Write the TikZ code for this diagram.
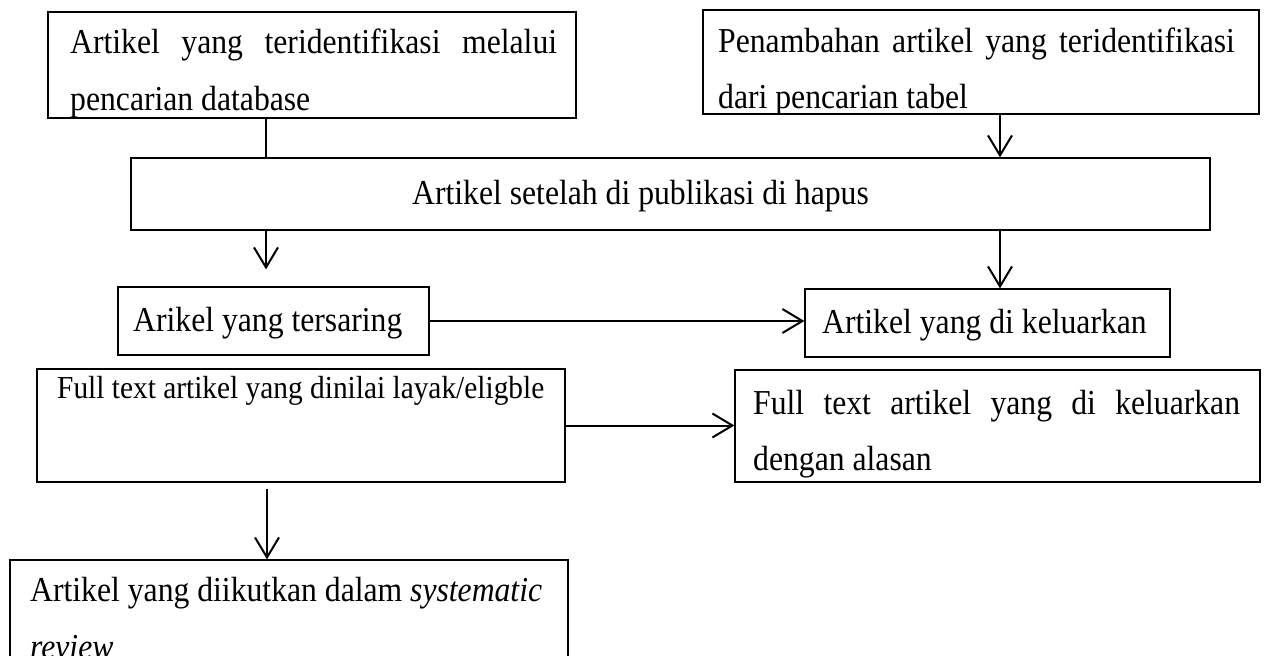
\documentclass[tikz,border=0pt]{standalone}
\usepackage{fontspec}
\usepackage{graphicx}
\setmainfont{Liberation Serif}
\usetikzlibrary{arrows.meta}
\newcommand\sq[1]{\scalebox{0.905}[1]{#1}}
\newcommand\sqs[1]{\scalebox{0.918}[1]{#1}}
\begin{document}
\begin{tikzpicture}[x=1pt,y=-1pt,
  box/.style={draw, line width=1.3pt, rectangle, inner sep=0pt},
  txt/.style={anchor=base west, inner sep=0pt, font=\fontsize{35}{40}\selectfont},
  stxt/.style={anchor=base west, inner sep=0pt, font=\fontsize{32}{36}\selectfont},
  conn/.style={line width=2pt},
  arr/.style={conn, -{Straight Barb[length=20pt,width=24pt,line width=2pt]}}]
\useasboundingbox (0,0) rectangle (1288,656);
% boxes
\node[box, minimum width=528pt, minimum height=106pt] (b1) at (312,65) {};
\node[box, minimum width=556pt, minimum height=104pt] (b2) at (981,62) {};
\node[box, minimum width=1079pt, minimum height=72pt] (b3) at (670.5,194) {};
\node[box, minimum width=311pt, minimum height=68pt] (b4) at (273.5,321) {};
\node[box, minimum width=365pt, minimum height=68pt] (b5) at (987.5,323) {};
\node[box, minimum width=528pt, minimum height=113pt] (b6) at (301,425.5) {};
\node[box, minimum width=525pt, minimum height=112pt] (b7) at (997.5,426) {};
\node[box, minimum width=558pt, minimum height=110pt] (b8) at (289,615) {};
% texts
\begin{scope}
\clip (b1.south west) rectangle (b1.north east);
\node[txt] (t1a) at (70,53) {\sq{\makebox[538pt][s]{Artikel yang teridentifikasi melalui}}};
\node[txt] (t1b) at (70,110) {\sq{pencarian database}};
\end{scope}
\begin{scope}
\clip (b2.south west) rectangle (b2.north east);
\node[txt] (t2a) at (718,52) {\sq{\makebox[571pt][s]{Penambahan artikel yang teridentifikasi}}};
\node[txt] (t2b) at (718,108) {\sq{dari pencarian tabel}};
\end{scope}
\node[txt] (t3) at (412,204) {\sq{Artikel setelah di publikasi di hapus}};
\node[txt] (t4) at (133,331) {\sq{Arikel yang tersaring}};
\node[txt] (t5) at (822,333) {\sq{Artikel yang di keluarkan}};
\node[stxt] (t6) at (57,398) {\sqs{Full text artikel yang dinilai layak/eligble}};
\node[txt] (t7a) at (753,414) {\sq{\makebox[538pt][s]{Full text artikel yang di keluarkan}}};
\node[txt] (t7b) at (753,470) {\sq{dengan alasan}};
\begin{scope}
\clip (b8.south west) rectangle (b8.north east);
\node[txt] (t8a) at (30,601) {\sq{Artikel yang diikutkan dalam \textit{systematic}}};
\node[txt] (t8b) at (30,658) {\sq{\textit{review}}};
\end{scope}
% connectors
\coordinate (cL) at (266,0);
\coordinate (cR) at (1000,0);
\coordinate (cB) at (267,0);
\draw[conn] (b1.south -| cL) -- (b3.north -| cL);
\draw[arr] (b2.south -| cR) -- (b3.north -| cR);
\draw[arr, shorten >=17pt] (b3.south -| cL) -- (b4.north -| cL);
\draw[arr] (b3.south -| cR) -- (b5.north -| cR);
\draw[arr] (b4.east) -- (b4.east -| b5.west);
\draw[arr] (b6.east) -- (b6.east -| b7.west);
\draw[arr, shorten <=6pt] (b6.south -| cB) -- (b8.north -| cB);
\end{tikzpicture}
\end{document}
